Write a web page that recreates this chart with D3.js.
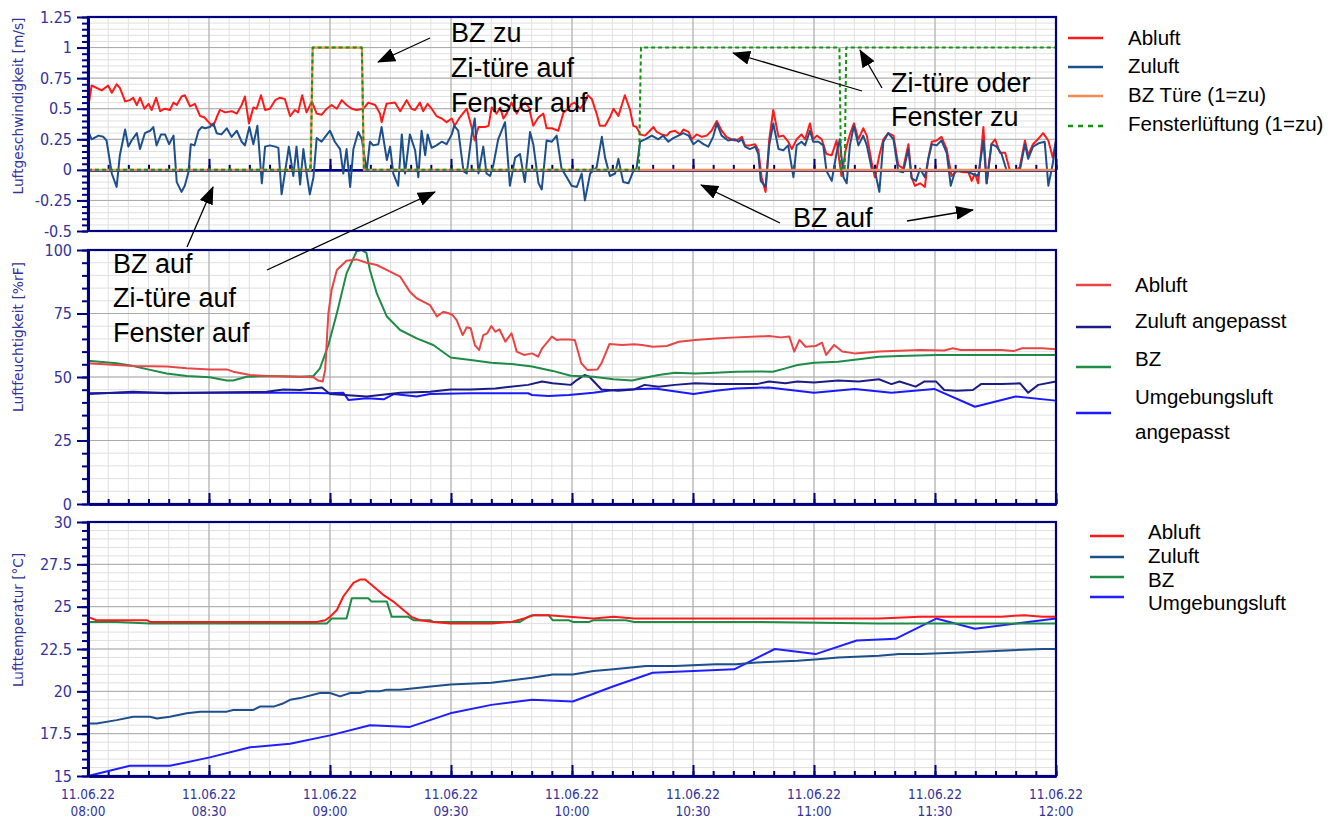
<!DOCTYPE html>
<html>
<head>
<meta charset="utf-8">
<script src="https://cdn.jsdelivr.net/npm/d3@7"></script>
<style>
    body { margin: 0; background: #fff; }
    svg text { font-family: "DejaVu Sans Condensed", "DejaVu Sans", sans-serif; }
    svg .note, svg .legend text { font-family: "Liberation Sans", Arial, sans-serif; fill: #000; }
</style>
</head>
<body>
<div id="chart"></div>
<script>
// ---- data (minutes after 11.06.22 08:00, value) ----

// time axis
const timeTicks = [0, 30, 60, 90, 120, 150, 180, 210, 240];

// Luftgeschwindigkeit [m/s]
const speedTicks = [-0.5, -0.25, 0, 0.25, 0.5, 0.75, 1, 1.25];
const speedAbluft = [[0,0.50],[0.9,0.69],[3.4,0.65],[5.0,0.69],[5.9,0.63],[7.1,0.70],[7.9,0.67],[9.2,0.56],[10.4,0.57],[11.2,0.59],[12.1,0.53],[12.9,0.59],[14.0,0.50],[15.0,0.54],[15.8,0.49],[16.9,0.59],[17.9,0.48],[19.1,0.50],[20.3,0.49],[21.2,0.55],[22.0,0.53],[23.2,0.60],[24.0,0.61],[25.3,0.52],[26.5,0.54],[27.8,0.44],[28.8,0.43],[30.2,0.38],[31.1,0.36],[31.9,0.43],[32.7,0.49],[34.0,0.47],[35.6,0.48],[36.9,0.46],[38.1,0.53],[38.9,0.60],[39.9,0.38],[41.0,0.51],[41.8,0.50],[42.9,0.61],[43.9,0.49],[45.1,0.50],[46.4,0.57],[47.6,0.59],[48.8,0.58],[50.1,0.44],[51.3,0.49],[52.1,0.47],[53.1,0.61],[54.2,0.47],[55.5,0.56],[56.7,0.46],[57.9,0.45],[59.2,0.50],[60.4,0.53],[61.7,0.50],[62.9,0.57],[64.1,0.53],[65.4,0.50],[66.6,0.49],[68.3,0.50],[69.5,0.55],[71.2,0.53],[72.4,0.46],[72.8,0.39],[74.0,0.54],[76.1,0.55],[77.4,0.48],[79.0,0.57],[80.2,0.50],[81.1,0.49],
    [82.3,0.55],[83.1,0.48],[84.2,0.54],[85.2,0.50],[86.4,0.44],[87.7,0.42],[88.9,0.39],[90.2,0.42],[90.9,0.36],[92.2,0.43],[93.9,0.50],[95.1,0.35],[95.9,0.24],[96.8,0.35],[98.4,0.35],[99.3,0.36],[100.1,0.51],[101.3,0.46],[102.2,0.51],[103.0,0.42],[103.8,0.46],[105.0,0.55],[106.3,0.46],[107.1,0.51],[108.4,0.55],[109.3,0.51],[110.4,0.36],[111.7,0.43],[112.9,0.46],[113.7,0.34],[115.0,0.34],[116.6,0.32],[117.9,0.47],[119.1,0.50],[119.9,0.54],[120.7,0.55],[122.0,0.50],[123.2,0.55],[123.9,0.61],[124.9,0.58],[126.1,0.46],[126.9,0.36],[128.2,0.36],[129.4,0.43],[130.3,0.50],[131.5,0.44],[133.1,0.61],[134.4,0.49],[135.2,0.36],[136.0,0.35],[136.9,0.29],[138.1,0.28],[139.3,0.32],[140.2,0.35],[141.0,0.31],[142.2,0.29],[143.5,0.28],[144.3,0.31],[145.5,0.32],[146.8,0.29],[147.6,0.33],[148.9,0.31],[149.7,0.25],[150.9,0.29],[152.2,0.27],[153.4,0.28],[154.6,0.32],[155.9,0.40],[157.1,0.32],[158.3,0.27],[159.6,0.25],[160.4,0.24],
    [161.3,0.25],[162.1,0.27],[162.9,0.20],[164.1,0.20],[165.4,0.21],[166.2,0.16],[167.0,-0.06],[168.0,-0.18],[168.9,0.25],[169.9,0.49],[171.2,0.27],[172.4,0.28],[173.6,0.23],[174.5,0.17],[175.7,0.25],[176.9,0.29],[177.8,0.25],[179.0,0.38],[179.8,0.25],[180.7,0.28],[181.9,0.25],[183.1,0.13],[184.4,0.12],[185.6,0.24],[186.8,-0.05],[187.9,0.17],[188.9,0.29],[189.9,0.38],[191.0,0.25],[192.2,0.34],[193.1,0.28],[194.3,0.06],[195.1,-0.06],[196.2,0.12],[197.2,0.25],[198.4,0.30],[199.7,0.28],[200.9,0.04],[202.1,0.01],[203.4,0.21],[204.2,-0.06],[205.0,-0.13],[206.3,-0.11],[207.5,-0.14],[208.3,0.09],[209.2,0.23],[210.4,0.24],[211.6,0.27],[212.9,0.17],[214.1,-0.05],[215.4,-0.01],[217.0,-0.02],[218.3,-0.02],[219.1,-0.09],[219.9,-0.03],[220.7,-0.11],[222.0,0.35],[222.8,-0.11],[224.0,0.21],[224.9,0.25],[226.1,0.14],[227.4,0.14],[228.6,-0.01],[229.8,-0.01],[231.0,0.02],[232.3,0.24],[233.1,0.12],[234.3,0.21],[235.5,0.25],[236.8,0.30],[238.1,0.24],[239.2,0.10],[240,0.24]];
const speedZuluft = [[0,0.32],[0.9,0.25],[2.6,0.28],[3.8,0.27],[4.6,0.24],[5.9,-0.03],[7.1,-0.14],[7.9,0.12],[9.2,0.33],[10.0,0.19],[10.8,0.24],[12.1,0.30],[12.9,0.17],[14.1,0.30],[15.4,0.32],[16.2,0.35],[17.0,0.20],[18.1,0.29],[19.1,0.29],[20.1,0.21],[21.2,0.28],[22.0,-0.10],[23.2,-0.18],[24.0,-0.13],[24.9,-0.02],[25.5,0.21],[26.4,0.20],[27.4,0.32],[28.2,0.35],[29.0,0.34],[30.2,0.35],[31.1,0.38],[31.9,0.30],[33.1,0.29],[34.4,0.34],[35.6,0.27],[36.9,0.32],[38.1,0.23],[38.9,0.20],[40.0,0.35],[41.0,0.21],[42.0,0.36],[43.1,-0.11],[43.9,0.19],[45.1,0.20],[46.4,0.19],[47.2,0.18],[48.0,-0.20],[48.8,-0.03],[49.8,0.19],[50.9,-0.05],[51.7,0.19],[52.6,-0.12],[53.4,0.17],[54.2,-0.03],[55.0,-0.20],[55.9,-0.06],[56.7,0.26],[57.9,0.23],[58.8,0.27],[60.0,0.32],[61.2,0.23],[62.5,0.17],[63.3,-0.03],[64.1,0.17],[65.0,-0.14],[65.8,0.17],[67.0,0.31],[67.9,0.25],[69.1,-0.01],[69.9,0.23],[70.7,0.20],[72.0,0.21],[72.8,0.35],[74.1,0.08],[74.9,0.19],[75.7,-0.03],[76.9,-0.13],[77.8,0.29],[78.6,-0.03],[79.8,0.29],[81.1,0.16],
    [81.9,-0.06],[82.7,0.32],[83.6,0.12],[84.2,0.29],[85.2,0.18],[86.4,0.20],[87.7,0.23],[88.9,0.21],[90.2,0.29],[90.8,0.36],[91.8,0.32],[93.1,-0.01],[93.9,-0.03],[95.1,0.28],[95.9,0.42],[96.8,-0.03],[98.0,0.19],[98.8,-0.03],[99.7,-0.05],[100.5,0.04],[101.7,0.25],[103.4,0.39],[104.6,-0.13],[105.9,0.10],[107.1,0.13],[108.3,-0.10],[109.6,0.31],[110.4,0.21],[111.7,-0.11],[112.5,-0.16],[113.7,0.24],[115.0,0.23],[116.2,0.28],[117.4,0.01],[118.7,-0.06],[119.9,-0.13],[121.2,-0.14],[122.4,-0.03],[123.2,-0.25],[124.5,-0.03],[126.1,0.02],[127.4,0.27],[128.2,0.10],[129.4,-0.05],[130.7,-0.03],[131.5,0.09],[132.7,-0.10],[134.0,-0.11],[135.2,-0.01],[136.0,0.01],[136.9,0.23],[138.1,0.25],[139.8,0.28],[141.4,0.25],[142.6,0.28],[143.9,0.23],[145.1,0.26],[146.4,0.28],[147.6,0.30],[148.9,0.28],[150.1,0.21],[151.3,0.24],[152.6,0.21],[153.8,0.19],[155.0,0.27],[155.9,0.38],[157.1,0.28],[158.7,0.24],[160.4,0.25],
    [161.3,0.23],[162.1,0.25],[162.9,0.19],[164.1,0.17],[165.4,0.19],[166.2,0.13],[166.8,-0.09],[168.0,-0.14],[168.9,0.20],[169.9,0.38],[171.2,0.17],[172.4,0.16],[173.6,0.20],[174.9,-0.06],[175.7,0.20],[176.9,0.23],[177.8,0.20],[179.0,0.32],[179.8,0.23],[181.1,0.23],[182.3,0.20],[183.1,-0.01],[184.4,-0.09],[185.6,0.14],[186.4,0.25],[187.3,-0.06],[188.1,-0.11],[188.9,0.20],[189.9,0.36],[191.0,0.20],[192.2,0.28],[193.1,0.20],[194.3,0.01],[195.1,-0.01],[196.2,-0.18],[197.2,0.23],[198.4,0.30],[199.7,0.25],[200.9,-0.01],[202.1,-0.02],[203.4,0.17],[204.2,-0.07],[205.3,-0.09],[206.3,0.01],[207.5,-0.06],[208.3,0.08],[209.2,0.21],[210.4,0.20],[211.6,0.24],[212.9,0.14],[213.9,-0.13],[215.0,-0.01],[217.0,-0.01],[218.3,-0.02],[219.1,-0.03],[219.9,-0.04],[220.7,-0.05],[222.0,0.24],[222.8,-0.11],[224.0,0.21],[225.3,0.19],[226.5,0.13],[227.8,-0.01],[229.4,-0.01],[231.0,-0.01],[232.3,0.21],[233.1,0.09],[234.3,0.19],[235.9,0.22],[237.2,0.23],[238.1,-0.13],[239.2,0.05],[240,0.24]];
const speedBzTuere = [[0,0],[55.2,0],[55.7,1],[67.9,1],[68.4,0],[240,0]];
const speedFenster = [[0,0],[55.2,0],[55.7,1],[67.9,1],[68.4,0],[136.6,0],[137.1,1],[186.3,1],[186.7,0],[187.6,0],[188.0,1],[240,1]];

// Luftfeuchtigkeit [%rF]
const humTicks = [0, 25, 50, 75, 100];
const humAbluft = [[0,55.4],[3.0,55.1],[11.2,54.3],[19.5,54.1],[24.5,53.4],[30.2,53.0],[34.4,53.0],[36.0,52.1],[40.2,50.8],[44.3,50.4],[52.6,50.1],[55.9,49.9],[57.1,48.6],[58.2,48.2],[58.8,52.8],[59.6,75.1],[60.4,84.3],[61.7,92.1],[64.1,95.8],[66.6,96.3],[69.1,95.0],[71.6,94.1],[74.9,91.5],[77.4,89.5],[79.8,83.6],[81.5,81.0],[83.1,79.7],[84.8,78.3],[86.5,73.8],[88.1,75.7],[89.4,75.1],[90.4,74.4],[91.4,72.4],[92.9,66.5],[93.9,69.6],[94.9,69.2],[95.9,62.6],[97.0,60.6],[98.0,66.5],[99.0,67.2],[100.0,70.1],[101.0,67.8],[102.0,68.8],[103.5,63.9],[105.0,67.2],[106.3,60.0],[108.1,58.7],[110.1,59.3],[111.6,58.0],[112.6,61.3],[115.0,65.9],[116.2,64.6],[117.2,64.8],[119.2,64.8],[120.7,64.6],[122.3,55.4],[123.8,52.8],[126.3,53.0],[127.3,55.4],[129.3,63.0],[132.4,62.6],[135.4,62.9],[137.4,62.6],[140.0,61.9],[143.5,62.2],[146.5,63.9],[150.6,64.6],[155.6,65.2],[160.7,65.6],[165.8,65.9],[168.8,66.1],[171.8,65.6],[173.9,65.9],[175.1,60.0],[176.4,64.6],[177.9,61.9],[180.4,62.2],[182.0,63.5],[183.0,58.7],[185.0,62.6],[187.0,60.0],[190.1,59.3],[196.1,60.0],[206.3,60.6],[212.3,60.4],[214.4,61.3],[216.4,60.6],[226.5,60.6],[229.5,60.2],[231.6,61.3],[236.6,61.3],[240,60.9]];
const humZuluft = [[0,43.3],[11.2,44.2],[19.5,43.6],[27.8,43.8],[36.0,44.0],[44.3,44.2],[48.5,45.1],[52.6,44.9],[55.9,45.5],[58.0,45.9],[60.0,43.3],[69.1,42.3],[77.4,43.8],[84.8,44.2],[89.9,45.1],[94.9,45.1],[101.0,45.5],[109.1,46.9],[112.6,48.2],[115.2,47.5],[119.7,46.9],[121.2,48.8],[123.1,50.8],[124.3,50.1],[127.3,45.1],[131.4,44.6],[135.4,45.1],[138.0,46.9],[141.5,46.2],[145.5,46.9],[150.6,47.5],[155.6,47.2],[160.7,47.2],[165.8,47.2],[168.8,48.2],[172.9,47.5],[175.9,48.2],[180.0,47.8],[186.0,48.6],[191.1,48.2],[196.1,49.1],[199.2,47.2],[201.2,48.2],[205.2,46.2],[207.3,48.2],[210.3,48.2],[212.3,44.9],[215.4,44.6],[219.4,44.9],[221.4,47.2],[226.5,47.2],[231.1,47.5],[233.1,43.8],[235.6,46.9],[240,48.2]];
const humBz = [[0,56.4],[7.1,55.4],[11.2,54.3],[15.4,52.8],[19.5,51.4],[24.5,50.4],[30.2,49.9],[34.4,48.6],[36.0,48.6],[39.3,50.1],[44.3,50.4],[52.6,50.1],[55.9,50.4],[57.5,53.4],[59.6,62.6],[61.7,75.1],[64.1,90.8],[66.6,99.5],[67.8,100],[69.0,99.0],[69.9,92.1],[71.6,82.9],[74.1,73.8],[77.4,68.5],[81.5,65.2],[85.6,62.6],[89.9,57.7],[94.9,56.7],[100.0,55.6],[105.0,55.1],[110.1,54.1],[115.2,52.4],[119.7,50.5],[125.3,50.1],[130.3,49.1],[134.9,48.6],[137.4,49.5],[141.5,50.8],[145.5,51.7],[150.6,51.4],[155.6,51.7],[160.7,52.1],[165.8,52.2],[169.8,52.1],[172.9,53.4],[175.9,54.7],[180.0,55.6],[186.0,56.0],[191.1,57.0],[196.1,58.0],[201.2,58.3],[210.3,58.7],[226.5,58.7],[240,58.7]];
const humUmgebung = [[0,43.6],[11.2,43.8],[27.8,43.8],[36.0,43.8],[52.6,43.8],[59.6,43.6],[63.3,43.8],[64.6,40.9],[69.1,41.6],[73.3,41.2],[75.8,43.3],[81.5,42.3],[84.8,43.3],[94.9,43.6],[109.1,43.6],[110.1,42.9],[114.2,42.5],[119.2,42.9],[125.3,43.8],[130.3,44.9],[140.5,45.5],[150.1,43.3],[155.6,44.6],[160.7,45.5],[168.8,45.9],[180.0,43.8],[190.1,45.3],[199.2,43.8],[209.8,45.3],[219.9,38.3],[230.0,42.3],[240,40.7]];

// Lufttemperatur [°C]
const tempTicks = [15, 17.5, 20, 22.5, 25, 27.5, 30];
const tempAbluft = [[0,24.4],[2.1,24.2],[7.1,24.2],[14.6,24.2],[15.4,24.1],[19.5,24.1],[27.8,24.1],[36.0,24.1],[46.8,24.1],[56.7,24.1],[58.8,24.2],[60.0,24.4],[61.7,24.8],[63.3,25.6],[65.8,26.4],[67.4,26.6],[68.7,26.6],[70.7,26.2],[73.2,25.7],[75.7,25.3],[78.2,24.8],[80.2,24.4],[82.3,24.2],[85.6,24.1],[89.9,24.0],[97.0,24.0],[100.0,24.0],[105.0,24.1],[108.1,24.3],[110.6,24.5],[114.2,24.5],[119.2,24.4],[125.3,24.3],[130.3,24.4],[135.4,24.3],[140.5,24.3],[145.5,24.3],[155.6,24.3],[165.8,24.3],[175.9,24.3],[186.0,24.3],[196.1,24.3],[206.3,24.4],[216.4,24.4],[226.5,24.4],[232.1,24.5],[236.6,24.4],[240,24.4]];
const tempZuluft = [[0,18.1],[2.1,18.1],[7.1,18.3],[11.2,18.5],[15.4,18.5],[17.1,18.4],[20.3,18.5],[24.5,18.7],[27.8,18.8],[34.4,18.8],[36.0,18.9],[41.0,18.9],[42.6,19.1],[46.0,19.1],[48.5,19.3],[50.1,19.5],[52.6,19.6],[57.5,19.9],[60.0,19.9],[62.5,19.7],[65.0,19.9],[67.4,19.9],[69.1,20.0],[72.4,20.0],[74.1,20.1],[77.4,20.1],[81.5,20.2],[85.6,20.3],[89.9,20.4],[100.0,20.5],[110.1,20.8],[115.2,21.0],[120.2,21.0],[125.3,21.2],[130.3,21.3],[138.4,21.5],[145.5,21.5],[155.6,21.6],[160.7,21.6],[165.8,21.7],[175.9,21.8],[181.0,21.9],[186.0,22.0],[196.1,22.1],[201.2,22.2],[206.3,22.2],[216.4,22.3],[226.5,22.4],[236.6,22.5],[240,22.5]];
const tempBz = [[0,24.1],[7.1,24.1],[15.4,24.0],[27.8,24.0],[44.3,24.0],[59.2,24.0],[60.4,24.3],[64.1,24.3],[65.4,25.5],[69.5,25.5],[70.3,25.3],[74.1,25.3],[75.3,24.4],[79.4,24.4],[80.7,24.2],[84.8,24.2],[85.6,24.1],[107.1,24.1],[109.1,24.4],[110.1,24.5],[114.2,24.5],[115.2,24.2],[119.2,24.2],[120.2,24.1],[124.3,24.1],[125.3,24.2],[133.4,24.2],[135.4,24.1],[165.8,24.1],[196.1,24.0],[240,24.0]];
const tempUmgebung = [[0,15.0],[10.4,15.6],[20.3,15.6],[30.2,16.1],[40.2,16.7],[50.1,16.9],[60.0,17.4],[69.9,18.0],[79.8,17.9],[89.8,18.7],[100.0,19.2],[110.1,19.5],[120.2,19.4],[130.3,20.3],[140.0,21.1],[160.2,21.3],[170.3,22.5],[180.4,22.2],[190.6,23.0],[200.2,23.1],[210.3,24.3],[219.9,23.7],[240,24.3]];

// ---- chart ----
const width = 1340, height = 821;
const plotLeft = 88, plotRight = 1056;
const navy = "#000080";
const labelColor = "#33339a";

const t0 = new Date(2022, 5, 11, 8, 0);
const toDate = m => new Date(t0.getTime() + m * 60000);

const svg = d3.select("#chart").append("svg")
    .attr("width", width)
    .attr("height", height);

// arrow head for annotations
svg.append("defs").append("marker")
    .attr("id", "head")
    .attr("markerUnits", "userSpaceOnUse")
    .attr("markerWidth", 18).attr("markerHeight", 14)
    .attr("refX", 17).attr("refY", 7)
    .attr("orient", "auto")
    .append("path")
    .attr("d", "M0,0 L18,7 L0,14 Z")
    .attr("fill", "#000");

const x = d3.scaleTime()
    .domain([toDate(0), toDate(240)])
    .range([plotLeft, plotRight]);

const minorTimes = d3.range(0, 241, 5).map(toDate);
const majorTimes = timeTicks.map(toDate);

const panels = [
    {
        top: 17, bottom: 231, domain: [-0.5, 1.25], ticks: speedTicks, minorStep: 0.05,
        title: "Luftgeschwindigkeit [m/s]", titleY: 106, titleLen: 177, timeAxisAt: 0,
        series: [
            {data: speedAbluft, color: "#ff1a1a", width: 2},
            {data: speedZuluft, color: "#1d4f8c", width: 2},
            {data: speedBzTuere, color: "#f7894a", width: 2.2},
            {data: speedFenster, color: "#129412", width: 2, dash: "4,3"}
        ],
        legendOrder: [0, 1, 2, 3],
        legend: {x1: 1068, x2: 1103, tx: 1128, rows: [
            {label: ["Abluft"], ly: 38, ty: [45]},
            {label: ["Zuluft"], ly: 67, ty: [73]},
            {label: ["BZ Türe (1=zu)"], ly: 96, ty: [102]},
            {label: ["Fensterlüftung (1=zu)"], ly: 126, ty: [131]}
        ]}
    },
    {
        top: 250, bottom: 504, domain: [0, 100], ticks: humTicks, minorStep: 5,
        title: "Luftfeuchtigkeit [%rF]", titleY: 337, titleLen: 150, timeAxisAt: null,
        series: [
            {data: humUmgebung, color: "#1a1aff", width: 2},
            {data: humZuluft, color: "#1c1c86", width: 2},
            {data: humBz, color: "#1e8c46", width: 2},
            {data: humAbluft, color: "#e84646", width: 2}
        ],
        legendOrder: [3, 1, 2, 0],
        legend: {x1: 1076, x2: 1111, tx: 1135, rows: [
            {label: ["Abluft"], ly: 285, ty: [292]},
            {label: ["Zuluft angepasst"], ly: 327, ty: [328]},
            {label: ["BZ"], ly: 367, ty: [366]},
            {label: ["Umgebungsluft", "angepasst"], ly: 413, ty: [404, 439]}
        ]}
    },
    {
        top: 522, bottom: 776, domain: [15, 30], ticks: tempTicks, minorStep: 0.5,
        title: "Lufttemperatur [°C]", titleY: 620, titleLen: 134, timeAxisAt: null,
        series: [
            {data: tempUmgebung, color: "#1f1fff", width: 2},
            {data: tempZuluft, color: "#1d4f8c", width: 2},
            {data: tempBz, color: "#1e8c46", width: 2},
            {data: tempAbluft, color: "#ff1a1a", width: 2}
        ],
        legendOrder: [3, 1, 2, 0],
        legend: {x1: 1090, x2: 1124, tx: 1148, rows: [
            {label: ["Abluft"], ly: 536, ty: [539]},
            {label: ["Zuluft"], ly: 557, ty: [563]},
            {label: ["BZ"], ly: 577, ty: [587]},
            {label: ["Umgebungsluft"], ly: 597, ty: [610]}
        ]}
    }
];

panels.forEach(drawPanel);

function drawPanel(p) {
    const y = d3.scaleLinear().domain(p.domain).range([p.bottom, p.top]);
    const n = Math.round((p.domain[1] - p.domain[0]) / p.minorStep);
    const minorVals = d3.range(n + 1).map(i => +(p.domain[0] + i * p.minorStep).toFixed(3));
    const g = svg.append("g");

    // grid
    const grid = g.append("g");
    grid.selectAll(".vminor").data(minorTimes).join("line")
        .attr("x1", d => x(d)).attr("x2", d => x(d))
        .attr("y1", p.top).attr("y2", p.bottom)
        .attr("stroke", "#e0e0e0").attr("stroke-width", 1);
    grid.selectAll(".hminor").data(minorVals).join("line")
        .attr("x1", plotLeft).attr("x2", plotRight)
        .attr("y1", d => y(d)).attr("y2", d => y(d))
        .attr("stroke", "#e0e0e0").attr("stroke-width", 1);
    grid.selectAll(".vmajor").data(majorTimes).join("line")
        .attr("x1", d => x(d)).attr("x2", d => x(d))
        .attr("y1", p.top).attr("y2", p.bottom)
        .attr("stroke", "#a9a9a9").attr("stroke-width", 1);
    grid.selectAll(".hmajor").data(p.ticks).join("line")
        .attr("x1", plotLeft).attr("x2", plotRight)
        .attr("y1", d => y(d)).attr("y2", d => y(d))
        .attr("stroke", "#a9a9a9").attr("stroke-width", 1);

    // time axis with upward ticks (on the zero line in the first panel, else at the bottom)
    const axisY = p.timeAxisAt === null ? p.bottom : y(p.timeAxisAt);
    const timeMinor = g.append("g")
        .attr("transform", `translate(0,${axisY})`)
        .call(d3.axisTop(x).tickValues(minorTimes).tickSize(5).tickSizeOuter(0).tickFormat(""));
    const timeMajor = g.append("g")
        .attr("transform", `translate(0,${axisY})`)
        .call(d3.axisTop(x).tickValues(majorTimes).tickSize(11).tickSizeOuter(0).tickFormat(""));
    [timeMinor, timeMajor].forEach(a => {
        a.selectAll(".tick line").attr("stroke", navy).attr("stroke-width", 2);
        a.select(".domain").attr("stroke", navy).attr("stroke-width", 2.5);
    });

    // series
    const line = d3.line()
        .x(d => x(toDate(d[0])))
        .y(d => y(d[1]));
    p.series.forEach(s => {
        g.append("path")
            .datum(s.data)
            .attr("fill", "none")
            .attr("stroke", s.color)
            .attr("stroke-width", s.width)
            .attr("stroke-linejoin", "round")
            .attr("stroke-dasharray", s.dash || null)
            .attr("d", line);
    });

    // frame
    g.append("rect")
        .attr("x", plotLeft).attr("y", p.top)
        .attr("width", plotRight - plotLeft).attr("height", p.bottom - p.top)
        .attr("fill", "none").attr("stroke", navy).attr("stroke-width", 2.2);

    // y axis
    const yMinor = g.append("g")
        .attr("transform", `translate(${plotLeft},0)`)
        .call(d3.axisLeft(y).tickValues(minorVals).tickSize(6).tickSizeOuter(0).tickFormat(""));
    const yMajor = g.append("g")
        .attr("transform", `translate(${plotLeft},0)`)
        .call(d3.axisLeft(y).tickValues(p.ticks).tickSize(11).tickSizeOuter(0).tickPadding(5).tickFormat(d => String(d)));
    [yMinor, yMajor].forEach(a => {
        a.selectAll(".tick line").attr("stroke", navy).attr("stroke-width", 2);
        a.select(".domain").attr("stroke", navy).attr("stroke-width", 3);
    });
    yMajor.selectAll(".tick text")
        .attr("fill", labelColor)
        .attr("font-size", 16)
        .attr("font-family", "DejaVu Sans Condensed, DejaVu Sans, sans-serif");

    // axis title
    g.append("text")
        .attr("transform", `translate(23,${p.titleY})rotate(-90)`)
        .attr("text-anchor", "middle")
        .attr("fill", labelColor)
        .attr("font-size", 13.5)
        .attr("textLength", p.titleLen)
        .attr("lengthAdjust", "spacingAndGlyphs")
        .text(p.title);

    // legend
    const lg = g.append("g").attr("class", "legend");
    p.legend.rows.forEach((r, i) => {
        const s = p.series[p.legendOrder[i]];
        lg.append("line")
            .attr("x1", p.legend.x1).attr("x2", p.legend.x2)
            .attr("y1", r.ly).attr("y2", r.ly)
            .attr("stroke", s.color)
            .attr("stroke-width", 2.5)
            .attr("stroke-dasharray", s.dash ? "5,5" : null);
        r.label.forEach((t, k) => {
            lg.append("text")
                .attr("x", p.legend.tx).attr("y", r.ty[k])
                .attr("font-size", 20.5)
                .text(t);
        });
    });
}

// time labels under the last panel
const timeLabels = svg.append("g");
majorTimes.forEach(d => {
    const t = timeLabels.append("text")
        .attr("text-anchor", "middle")
        .attr("fill", labelColor)
        .attr("font-size", 13.5);
    t.append("tspan").attr("x", x(d)).attr("y", 799).text(d3.timeFormat("%d.%m.%y")(d));
    t.append("tspan").attr("x", x(d)).attr("y", 816).text(d3.timeFormat("%H:%M")(d));
});

// annotations
const notes = [
    {x: 451, y: [42, 77, 112], lines: ["BZ zu", "Zi-türe auf", "Fenster auf"]},
    {x: 891, y: [92, 126], lines: ["Zi-türe oder", "Fenster zu"]},
    {x: 793, y: [227], lines: ["BZ auf"]},
    {x: 113, y: [273, 307, 342], lines: ["BZ auf", "Zi-türe auf", "Fenster auf"]}
];
const arrows = [
    [430, 38, 378, 62],
    [187, 247, 213, 187],
    [267, 270, 435, 192],
    [862, 91, 733, 53],
    [882, 88, 860, 50],
    [780, 223, 701, 185],
    [907, 221, 973, 210]
];
const ann = svg.append("g");
arrows.forEach(a => {
    ann.append("line")
        .attr("x1", a[0]).attr("y1", a[1])
        .attr("x2", a[2]).attr("y2", a[3])
        .attr("stroke", "#000").attr("stroke-width", 1.3)
        .attr("marker-end", "url(#head)");
});
notes.forEach(n => {
    n.lines.forEach((t, i) => {
        ann.append("text")
            .attr("class", "note")
            .attr("x", n.x).attr("y", n.y[i])
            .attr("font-size", 27)
            .text(t);
    });
});
</script>
</body>
</html>
